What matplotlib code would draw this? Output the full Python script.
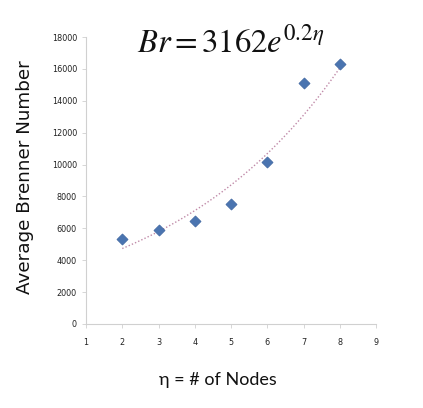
import numpy as np
import matplotlib
matplotlib.use("Agg")
import matplotlib.pyplot as plt

nodes = [2, 3, 4, 5, 6, 7, 8]
brenner = [5330, 5880, 6460, 7530, 10180, 15130, 16330]
x_ticks = [1, 2, 3, 4, 5, 6, 7, 8, 9]
y_ticks = [0, 2000, 4000, 6000, 8000, 10000, 12000, 14000, 16000, 18000]

fig = plt.figure(figsize=(4.23, 4.08), dpi=100)
ax = fig.add_axes([0.2033, 0.206, 0.6857, 0.703])

# exponential trendline fit
b, loga = np.polyfit(nodes, np.log(brenner), 1)
xs = np.linspace(min(nodes), max(nodes), 100)
ax.plot(xs, np.exp(loga) * np.exp(b * xs), linestyle=(0, (1, 1.5)), color="#C08AA8", lw=1.0)

ax.scatter(nodes, brenner, marker="D", s=32, color="#4A74B0", edgecolors="#3E65A0", linewidths=0.5, zorder=3)

ax.set_xlim(1, 9)
ax.set_ylim(0, 18000)
ax.set_xticks(x_ticks)
ax.set_yticks(y_ticks)
for s in ["top", "right"]:
    ax.spines[s].set_visible(False)
for s in ["left", "bottom"]:
    ax.spines[s].set_color("#D0D0D0")
    ax.spines[s].set_linewidth(0.8)
ax.tick_params(axis="both", colors="#D0D0D0", labelcolor="#222222", labelsize=6.5, length=3, width=0.6)
for lab in ax.get_xticklabels() + ax.get_yticklabels():
    lab.set_family("DejaVu Sans")
    lab.set_stretch("condensed")
ax.tick_params(axis="x", pad=7)

fig.text(0.058, 0.567, "Average Brenner Number", rotation=90, ha="center", va="center",
         fontsize=13.2, family="DejaVu Sans", weight="medium", color="#111111")
fig.text(0.515, 0.068, "η = # of Nodes", ha="center", va="center", fontsize=13,
         family="Lato", color="#111111")
fig.text(0.545, 0.895, r"$Br = 3162e^{0.2\eta}$", ha="center", va="center", fontsize=23.5,
         color="#111111", math_fontfamily="stix")

fig.savefig("out.png", dpi=100, facecolor="white")
